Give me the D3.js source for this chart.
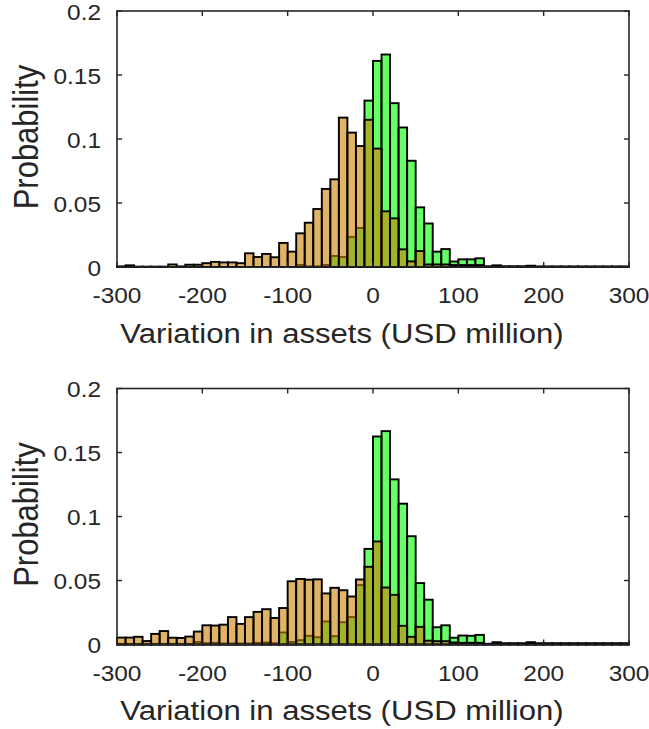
<!DOCTYPE html>
<html>
<head>
<meta charset="utf-8">
<script src="https://cdn.jsdelivr.net/npm/d3@7"></script>
<style>
  html, body { margin: 0; padding: 0; background: #fff; }
  svg { display: block; }
  text { font-family: "Liberation Sans", Arial, Helvetica, sans-serif; fill: #262626; }
</style>
</head>
<body>
<svg id="chart" width="649" height="729"></svg>
<script>
// Histogram bins: 10 USD million wide, from -300 to 300
const binStart = -300;
const binWidth = 10;

// Upper panel
const topOrange = [
  0.0005, 0.0013, 0.0003, 0.0003, 0.0003, 0.0003, 0.002, 0.0005, 0.0018, 0.0018,
  0.003, 0.004, 0.0036, 0.0036, 0.003, 0.0107, 0.0078, 0.0102, 0.0076, 0.0188,
  0.012, 0.0263, 0.0346, 0.0453, 0.061, 0.0685, 0.1167, 0.105, 0.0945, 0.115,
  0.0925, 0.0435, 0.038, 0.0138, 0.0044, 0.0125, 0.002, 0.002, 0.002, 0.0015,
  0.0015, 0.0015, 0.0015, 0.0003, 0.0003, 0.0003, 0.0003, 0.0003, 0.0003, 0.0003,
  0.0003, 0.0003, 0.0003, 0.0003, 0.0003, 0.0003, 0.0003, 0.0003, 0.0003, 0.0003
];
const topGreen = [
  0, 0, 0, 0, 0, 0, 0, 0, 0, 0,
  0, 0, 0, 0, 0, 0, 0, 0, 0, 0,
  0, 0.0016, 0.0005, 0.0005, 0.0016, 0.0086, 0.0078, 0.0235, 0.0305, 0.130,
  0.161, 0.166, 0.128, 0.109, 0.083, 0.0466, 0.034, 0.012, 0.014, 0.0043,
  0.006, 0.006, 0.0068, 0.0005, 0.0013, 0.0005, 0.0005, 0.0005, 0.001, 0.0003,
  0.0003, 0.0003, 0.0003, 0.0003, 0.0003, 0.0003, 0.0003, 0.0003, 0.0003, 0.0003
];

// Lower panel
const bottomOrange = [
  0.0054, 0.0054, 0.006, 0.0027, 0.0083, 0.0105, 0.0053, 0.0051, 0.0062, 0.0101,
  0.015, 0.0148, 0.0155, 0.0214, 0.0161, 0.0214, 0.0255, 0.0276, 0.0207, 0.0285,
  0.0494, 0.0512, 0.0506, 0.0509, 0.0399, 0.0443, 0.0424, 0.0375, 0.0508, 0.0607,
  0.0805, 0.0445, 0.0388, 0.0146, 0.006, 0.0138, 0.003, 0.0026, 0.0026, 0.0016,
  0.0013, 0.0013, 0.0013, 0.0005, 0.0005, 0.0005, 0.0005, 0.0005, 0.0005, 0.0005,
  0.0005, 0.0005, 0.0005, 0.0005, 0.0005, 0.0005, 0.0005, 0.0005, 0.0005, 0.0005
];
const bottomGreen = [
  0.0005, 0.0005, 0.0005, 0.0005, 0.0005, 0.0005, 0.0005, 0.0005, 0.0005, 0.002,
  0.001, 0.0013, 0.0008, 0.0008, 0.0008, 0.0008, 0.0013, 0.0016, 0.001, 0.0094,
  0.002, 0.0034, 0.0068, 0.0057, 0.018, 0.0065, 0.0174, 0.0214, 0.0464, 0.0747,
  0.1625, 0.1667, 0.129, 0.110, 0.0846, 0.048, 0.035, 0.0135, 0.015, 0.0053,
  0.007, 0.0068, 0.0075, 0.0005, 0.0018, 0.001, 0.001, 0.001, 0.0018, 0.001,
  0.001, 0.001, 0.001, 0.001, 0.001, 0.001, 0.001, 0.001, 0.001, 0.001
];

const xTicks = [-300, -200, -100, 0, 100, 200, 300];
const xTickLabels = ["-300", "-200", "-100", "0", "100", "200", "300"];
const yTicks = [0, 0.05, 0.1, 0.15, 0.2];
const yTickLabels = ["0", "0.05", "0.1", "0.15", "0.2"];
const xTitle = "Variation in assets (USD million)";
const yTitle = "Probability";

const panels = [
  { top: 11, orange: topOrange, green: topGreen },
  { top: 388.5, orange: bottomOrange, green: bottomGreen }
];

const plotLeft = 117, plotW = 512, plotH = 256;
const ink = "#262626";
const stretch = 1.11; // wide glyph proportions

const svg = d3.select("#chart");
const x = d3.scaleLinear().domain([-300, 300]).range([0, plotW]);
const y = d3.scaleLinear().domain([0, 0.2]).range([plotH, 0]);

panels.forEach(p => {
  const g = svg.append("g").attr("transform", `translate(${plotLeft},${p.top})`);

  const bins = (vals) => vals.map((v, i) => ({ x0: binStart + i * binWidth, x1: binStart + (i + 1) * binWidth, v }));

  // green series underneath, orange series drawn on top with transparency
  [[p.green, "rgba(0,255,0,0.6)"], [p.orange, "rgba(204,128,0,0.6)"]].forEach(([vals, fill]) => {
    g.append("g").selectAll("rect").data(bins(vals)).join("rect")
      .attr("x", d => x(d.x0))
      .attr("width", d => x(d.x1) - x(d.x0))
      .attr("y", d => y(d.v))
      .attr("height", d => y(0) - y(d.v))
      .attr("fill", fill)
      .attr("stroke", "#000")
      .attr("stroke-width", 1.9);
  });

  // box
  g.append("rect").attr("x", 0).attr("y", 0).attr("width", plotW).attr("height", plotH)
    .attr("fill", "none").attr("stroke", ink).attr("stroke-width", 1.6);

  // inward ticks on all four sides
  const tk = 5;
  xTicks.forEach(t => {
    g.append("line").attr("x1", x(t)).attr("x2", x(t)).attr("y1", plotH).attr("y2", plotH - tk)
      .attr("stroke", ink).attr("stroke-width", 1.4);
    g.append("line").attr("x1", x(t)).attr("x2", x(t)).attr("y1", 0).attr("y2", tk)
      .attr("stroke", ink).attr("stroke-width", 1.4);
  });
  yTicks.forEach(t => {
    g.append("line").attr("x1", 0).attr("x2", tk).attr("y1", y(t)).attr("y2", y(t))
      .attr("stroke", ink).attr("stroke-width", 1.4);
    g.append("line").attr("x1", plotW).attr("x2", plotW - tk).attr("y1", y(t)).attr("y2", y(t))
      .attr("stroke", ink).attr("stroke-width", 1.4);
  });

  // tick labels
  xTicks.forEach((t, i) => {
    g.append("g").attr("transform", `translate(${x(t)},${plotH + 36}) scale(${stretch},1)`)
      .append("text").attr("text-anchor", "middle").attr("font-size", 22).text(xTickLabels[i]);
  });
  yTicks.forEach((t, i) => {
    g.append("g").attr("transform", `translate(-16,${y(t) + 8.5}) scale(${stretch},1)`)
      .append("text").attr("text-anchor", "end").attr("font-size", 22).text(yTickLabels[i]);
  });

  // axis titles
  g.append("g").attr("transform", `translate(${plotW / 2 - 31},${plotH + 75.5}) scale(${stretch},1)`)
    .append("text").attr("text-anchor", "middle").attr("font-size", 28).text(xTitle);
  g.append("g").attr("transform", `translate(${38 - plotLeft},${plotH / 2 - 2}) scale(${stretch},1) rotate(-90)`)
    .append("text").attr("text-anchor", "middle").attr("font-size", 31).text(yTitle);
});
</script>
</body>
</html>
